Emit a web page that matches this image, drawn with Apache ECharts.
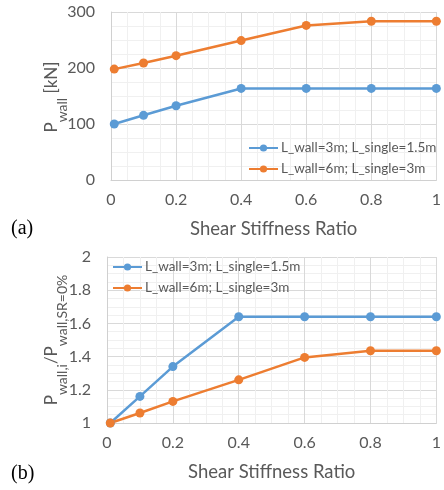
<!DOCTYPE html>
<html>
<head>
<meta charset="utf-8">
<script src="https://cdn.jsdelivr.net/npm/echarts@6/dist/echarts.min.js"></script>
<style>
  html, body { margin: 0; padding: 0; background: #ffffff; }
  #chart { width: 444px; height: 490px; }
</style>
</head>
<body>
<div id="chart"></div>
<script>
// Shear stiffness ratios where the wall load was evaluated
const shearRatio = [0.01, 0.1, 0.2, 0.4, 0.6, 0.8, 1];
// Series names
const seriesNames = ['L_wall=3m; L_single=1.5m', 'L_wall=6m; L_single=3m'];
// (a) wall load P_wall [kN]
const pWallShort = [100, 115.5, 132.5, 163.5, 163.5, 163.5, 163.5];
const pWallLong = [198, 209, 222, 249, 276, 283.5, 283.5];
// (b) wall load normalised by the SR=0% value
const ratioShort = [1, 1.16, 1.34, 1.64, 1.64, 1.64, 1.64];
const ratioLong = [1, 1.06, 1.13, 1.26, 1.395, 1.435, 1.435];
// Y-axis titles as [text, isSubscript] runs
const titleA = [['P', false], ['wall', true], [' [kN]', false]];
const titleB = [['P', false], ['wall,i', true], ['/P', false], ['wall,SR=0%', true]];

const BLUE = '#5B9BD5';
const ORANGE = '#ED7D31';
const TEXT = '#595959';
const FAMILY = 'Lato';
const FONT = 'Lato, "Open Sans", sans-serif';

function pairs(xs, ys) { return xs.map((x, i) => [x, ys[i]]); }

function xAxisFor(gridIndex) {
  return {
    type: 'value', gridIndex, min: 0, max: 1, interval: 0.2,
    name: 'Shear Stiffness Ratio', nameLocation: 'middle', nameGap: 40,
    nameTextStyle: { color: TEXT, fontSize: 18.5, fontFamily: FONT },
    axisLine: { show: true, lineStyle: { color: '#d0d0d0', width: 1 } },
    axisTick: { show: false },
    axisLabel: { color: TEXT, fontSize: 16, fontFamily: FONT, margin: 12 },
    splitLine: { show: true, lineStyle: { color: '#d9d9d9', width: 1 } },
    minorTick: { show: false, splitNumber: 4 },
    minorSplitLine: { show: true, lineStyle: { color: '#f0f0f0', width: 1 } }
  };
}

function yAxisFor(gridIndex, min, max, interval) {
  return {
    type: 'value', gridIndex, min, max, interval,
    axisLine: { show: true, lineStyle: { color: '#d0d0d0', width: 1 } },
    axisTick: { show: false },
    axisLabel: { color: TEXT, fontSize: 16, fontFamily: FONT, margin: 16 },
    splitLine: { show: true, lineStyle: { color: '#d9d9d9', width: 1 } },
    minorTick: { show: false, splitNumber: 4 },
    minorSplitLine: { show: true, lineStyle: { color: '#f0f0f0', width: 1 } }
  };
}

// Rotated axis title built from runs, so subscripts can drop below the baseline
const MAIN_SIZE = 17, SUB_SIZE = 14;
const MAIN_X = 52, SUB_X = 62;
const measureCtx = document.createElement('canvas').getContext('2d');
function runWidth(text, size) {
  measureCtx.font = size + 'px ' + FAMILY;
  return measureCtx.measureText(text).width;
}
function verticalTitle(runs, centerY) {
  const widths = runs.map(r => runWidth(r[0], r[1] ? SUB_SIZE : MAIN_SIZE));
  const total = widths.reduce((a, b) => a + b, 0);
  let y = centerY + total / 2;
  return runs.map((r, i) => {
    const el = {
      type: 'text', x: r[1] ? SUB_X : MAIN_X, y, rotation: Math.PI / 2,
      style: {
        text: r[0], fontSize: r[1] ? SUB_SIZE : MAIN_SIZE, fontFamily: FAMILY,
        fill: TEXT, align: 'left', verticalAlign: 'middle'
      }
    };
    y -= widths[i];
    return el;
  });
}

function lineSeries(name, color, data, axisIndex) {
  return {
    type: 'line', name, data, xAxisIndex: axisIndex, yAxisIndex: axisIndex,
    symbol: 'circle', symbolSize: 9,
    lineStyle: { color, width: 2.5 },
    itemStyle: { color },
    animation: false
  };
}

function legendAt(left, top) {
  return {
    data: seriesNames, orient: 'vertical', left, top, padding: 0,
    itemWidth: 29, itemHeight: 9, itemGap: 5,
    textStyle: { color: TEXT, fontSize: 13.5, fontFamily: FONT, lineHeight: 16, padding: [0, 0, 0, -2] },
    selectedMode: false
  };
}

const chart = echarts.init(document.getElementById('chart'), null, { renderer: 'canvas' });
chart.setOption({
  backgroundColor: '#ffffff',
  animation: false,
  grid: [
    { left: 111, top: 12, width: 327, height: 168 },
    { left: 107, top: 257, width: 330, height: 166 }
  ],
  xAxis: [xAxisFor(0), xAxisFor(1)],
  yAxis: [yAxisFor(0, 0, 300, 100), yAxisFor(1, 1, 2, 0.2)],
  legend: [legendAt(248, 140), legendAt(112, 259)],
  series: [
    lineSeries(seriesNames[0], BLUE, pairs(shearRatio, pWallShort), 0),
    lineSeries(seriesNames[1], ORANGE, pairs(shearRatio, pWallLong), 0),
    lineSeries(seriesNames[0], BLUE, pairs(shearRatio, ratioShort), 1),
    lineSeries(seriesNames[1], ORANGE, pairs(shearRatio, ratioLong), 1)
  ],
  graphic: [
    ...verticalTitle(titleA, 97),
    ...verticalTitle(titleB, 340),
    { type: 'text', left: 11, top: 219, style: { text: '(a)', fontSize: 20, fontFamily: '"Liberation Serif", serif', fill: '#000' } },
    { type: 'text', left: 11, top: 464, style: { text: '(b)', fontSize: 20, fontFamily: '"Liberation Serif", serif', fill: '#000' } }
  ]
});
</script>
</body>
</html>
